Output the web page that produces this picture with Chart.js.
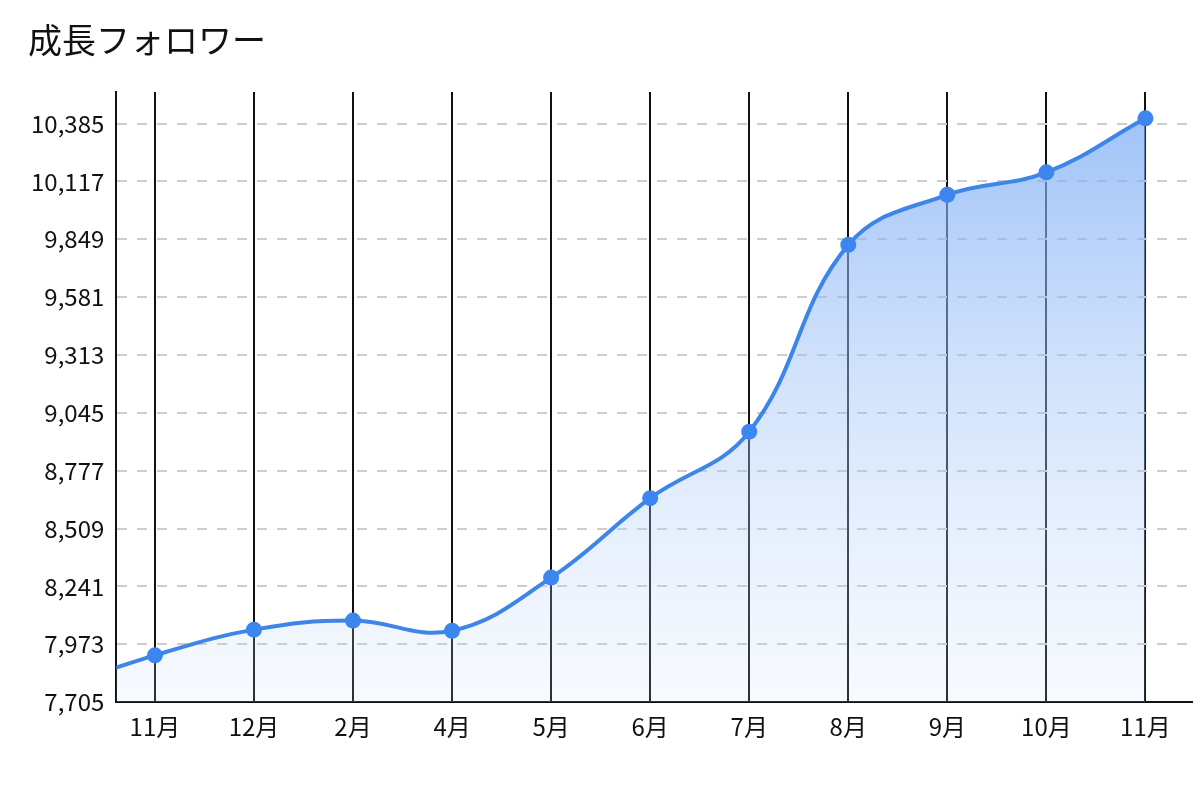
<!DOCTYPE html>
<html><head><meta charset="utf-8">
<script src="https://cdn.jsdelivr.net/npm/chart.js@4"></script>
<style>
html,body{margin:0;padding:0;background:#fff;}
#wrap{width:1200px;height:787px;position:relative;}
#title{position:absolute;left:28px;top:14px;font:34px "Noto Sans CJK JP";color:#111;}
</style></head>
<body><div id="wrap"><div id="title">成長フォロワー</div><canvas id="c"></canvas></div>
<script>
const labels = ["11月","12月","2月","4月","5月","6月","7月","8月","9月","10月","11月"];
const followers = [7922, 8041, 8083, 8036, 8282, 8650, 8958, 9823, 10055, 10159, 10409];
// previous month, scrolled off the left edge
const prevValue = 7770;
const yTicks = [7705, 7973, 8241, 8509, 8777, 9045, 9313, 9581, 9849, 10117, 10385];

const points = [{x: -1, y: prevValue}].concat(followers.map((v, i) => ({x: i, y: v})));

const ctx = document.getElementById("c").getContext("2d");
new Chart(ctx, {
    type: 'line',
    data: {
        datasets: [{
            data: points,
            borderColor: '#3d86e8',
            borderWidth: 4,
            tension: 0.4,
            pointRadius: points.map((p, i) => i === 0 ? 0 : 8),
            pointBackgroundColor: '#3d86f0',
            pointBorderWidth: 0,
            fill: 'start',
            backgroundColor: (c) => {
                const area = c.chart.chartArea;
                if (!area) return 'rgba(100,160,240,0.5)';
                const g = c.chart.ctx.createLinearGradient(0, area.top, 0, area.bottom);
                g.addColorStop(0, 'rgba(120,170,245,0.75)');
                g.addColorStop(1, 'rgba(200,220,250,0.15)');
                return g;
            }
        }]
    },
    options: {
        responsive: true,
        maintainAspectRatio: false,
        animation: false,
        layout: { padding: { left: 19, right: -6, top: 92, bottom: 36 } },
        plugins: {
            legend: { display: false },
            tooltip: { enabled: false }
        },
        scales: {
            x: {
                type: 'linear', min: -0.39, max: 10.47,
                afterBuildTicks: (s) => { s.ticks = labels.map((l, i) => ({value: i})); },
                ticks: {
                    callback: (v) => labels[v],
                    color: '#111', font: { size: 24, family: 'Noto Sans CJK JP' }, padding: 10
                },
                grid: { color: '#111', lineWidth: 2, drawTicks: false },
                border: { color: '#111', width: 2 }
            },
            y: {
                min: 7705, max: 10531,
                afterBuildTicks: (s) => { s.ticks = yTicks.map(v => ({value: v})); },
                ticks: {
                    callback: (v) => v.toLocaleString('en-US'),
                    color: '#111', font: { size: 24, family: 'Noto Sans CJK JP' }, padding: 12
                },
                grid: { color: '#cccccc', lineWidth: 2, drawTicks: false },
                border: { color: '#111', width: 2, dash: [10, 10] }
            }
        }
    }
});
</script></body></html>
